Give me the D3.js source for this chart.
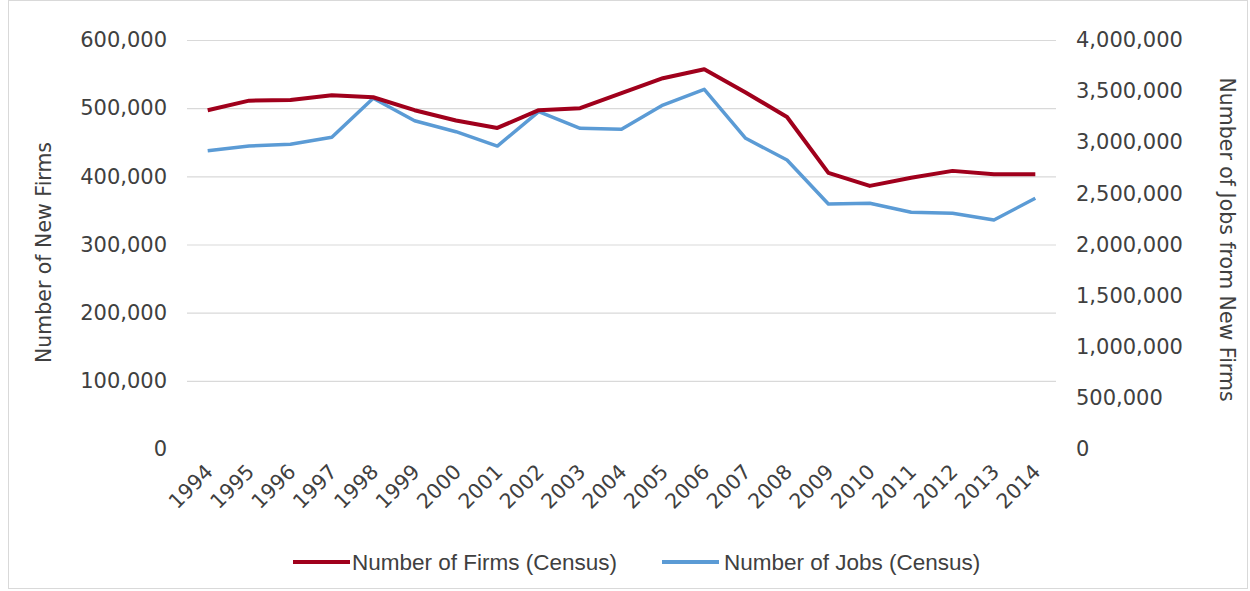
<!DOCTYPE html>
<html><head><meta charset="utf-8">
<script src="https://cdn.jsdelivr.net/npm/d3@7"></script>
<style>
body{margin:0;background:#fff;}
text{fill:#404040;}
</style></head>
<body><svg id="c" width="1250" height="591"></svg>
<script>
const years = ["1994","1995","1996","1997","1998","1999","2000","2001","2002","2003","2004","2005","2006","2007","2008","2009","2010","2011","2012","2013","2014"];
const firms = [497000,511000,512000,519000,516000,497000,482000,471000,497000,500000,522000,544000,557000,523000,487000,405000,386000,398000,408000,403000,403000];
const jobs = [2917000,2963000,2980000,3048000,3430000,3210000,3103000,2963000,3299000,3136000,3127000,3364000,3518000,3039000,2826000,2396000,2403000,2315000,2305000,2240000,2452000];
const leftTicks = [0,100000,200000,300000,400000,500000,600000];
const rightTicks = [0,500000,1000000,1500000,2000000,2500000,3000000,3500000,4000000];
const seriesNames = ["Number of Firms (Census)","Number of Jobs (Census)"];
const leftTitle = "Number of New Firms";
const rightTitle = "Number of Jobs from New Firms";

(function(){
const svg = d3.select("#c");
const pL = 187, pR = 1056, pT = 40, pB = 449;
const x = d3.scalePoint().domain(years).range([pL, pR]).padding(0.5);
const yL = d3.scaleLinear().domain([0,600000]).range([pB, pT]);
const yR = d3.scaleLinear().domain([0,4000000]).range([pB, pT]);
const fmt = d3.format(",");
const font = "DejaVu Sans, Liberation Sans, sans-serif";

// border
svg.append("rect").attr("x",8.5).attr("y",0.5).attr("width",1239).attr("height",588)
  .attr("fill","none").attr("stroke","#d9d9d9");

// gridlines
svg.append("g").selectAll("line").data(leftTicks.filter(d=>d>0)).join("line")
  .attr("x1",pL).attr("x2",pR).attr("y1",d=>yL(d)+0.5).attr("y2",d=>yL(d)+0.5)
  .attr("stroke","#d9d9d9").attr("stroke-width",1.2);

// left axis
const gL = svg.append("g").attr("transform",`translate(${pL},0)`)
  .call(d3.axisLeft(yL).tickValues(leftTicks).tickFormat(fmt).tickSize(0).tickPadding(20));
gL.select(".domain").remove();
gL.selectAll("text").attr("font-family",font).attr("font-size",21).style("fill","#404040");

// right axis
const gR = svg.append("g").attr("transform",`translate(${pR},0)`)
  .call(d3.axisRight(yR).tickValues(rightTicks).tickFormat(fmt).tickSize(0).tickPadding(20));
gR.select(".domain").remove();
gR.selectAll("text").attr("font-family",font).attr("font-size",21).style("fill","#404040");

// x axis
const gX = svg.append("g").attr("transform",`translate(0,${pB})`)
  .call(d3.axisBottom(x).tickSize(0).tickPadding(0));
gX.select(".domain").remove();
gX.selectAll("text").attr("font-family",font).attr("font-size",20.5).style("fill","#404040")
  .attr("text-anchor","end").attr("dy",0)
  .attr("transform","translate(6,24) rotate(-45)");

// axis titles
svg.append("text").attr("transform",`translate(51,${(pT+pB)/2 + 8}) rotate(-90)`)
  .attr("text-anchor","middle").attr("font-family",font).attr("font-size",20.5).text(leftTitle);
svg.append("text").attr("transform",`translate(1220,${(pT+pB)/2 - 5}) rotate(90)`)
  .attr("text-anchor","middle").attr("font-family",font).attr("font-size",20.5).text(rightTitle);

// lines
const colors = ["#A0001C","#5B9BD5"];
svg.append("path").datum(jobs).attr("fill","none").attr("stroke",colors[1]).attr("stroke-width",3.5)
  .attr("stroke-linejoin","round")
  .attr("d",d3.line().x((d,i)=>x(years[i])).y(d=>yR(d)));
svg.append("path").datum(firms).attr("fill","none").attr("stroke",colors[0]).attr("stroke-width",4)
  .attr("stroke-linejoin","round")
  .attr("d",d3.line().x((d,i)=>x(years[i])).y(d=>yL(d)));

// legend
const leg = [{x:293,tx:352},{x:662,tx:724}];
leg.forEach((l,i)=>{
  svg.append("line").attr("x1",l.x).attr("x2",l.x+57).attr("y1",562).attr("y2",562)
    .attr("stroke",colors[i]).attr("stroke-width",4);
  svg.append("text").attr("x",l.tx).attr("y",570).attr("font-family","Liberation Sans Narrow, Liberation Sans, sans-serif")
    .attr("font-size",22.5).text(seriesNames[i]);
});
})();
</script></body></html>
